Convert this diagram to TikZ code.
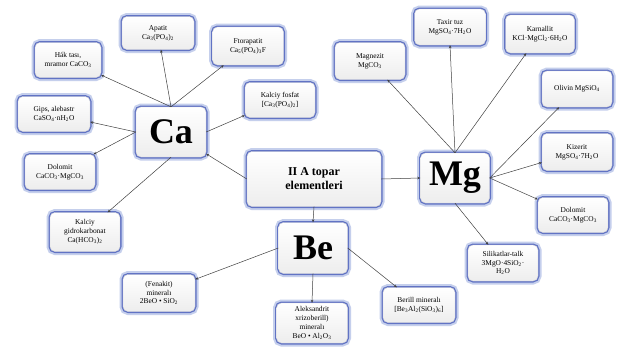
\documentclass[tikz,border=0pt]{standalone}
\usepackage{fontspec}
\setmainfont{Liberation Serif}
\usetikzlibrary{arrows.meta}
\definecolor{glowout}{RGB}{150,168,222}
\definecolor{glowin}{RGB}{80,100,190}
\definecolor{boxline}{RGB}{210,210,215}
\tikzset{
  box/.style={rectangle, rounded corners=5pt, align=center, inner sep=1pt,
    font=\fontsize{7.4}{8.8}\selectfont,
    top color=white, bottom color=gray!14, draw=boxline, line width=0.4pt,
    preaction={draw=glowout, line width=7pt, opacity=0.55},
    preaction={draw=glowin, line width=3pt, opacity=0.85}},
  bigbox/.style={box, font=\fontsize{36}{36}\selectfont\bfseries},
  conn/.style={draw=black!75, line width=0.5pt, -{Stealth[length=3pt,width=2.6pt]}},
}
\begin{document}
\begin{tikzpicture}[x=1pt,y=-1pt]
\useasboundingbox[fill=white] (0,0) rectangle (621,351);
% Ca group
\node[bigbox, minimum width=70, minimum height=50] (ca) at (171,132) {Ca};
\node[box, minimum width=66, minimum height=35] (hak) at (68,60) {Hák tası,\\ mramor CaCO\textsubscript{3}};
\node[box, minimum width=72, minimum height=33] (apatit) at (158,33) {Apatit\\ Ca\textsubscript{3}(PO\textsubscript{4})\textsubscript{2}};
\node[box, minimum width=71, minimum height=38] (ftor) at (248,46) {Ftorapatit\\ Ca\textsubscript{5}(PO\textsubscript{4})\textsubscript{3}F};
\node[box, minimum width=70, minimum height=35] (kfos) at (280,100) {Kalciy fosfat\\\relax [Ca\textsubscript{3}(PO\textsubscript{4})\textsubscript{2}]};
\node[box, minimum width=72, minimum height=35] (gips) at (54,114) {Gips, alebastr\\ CaSO\textsubscript{4}·nH\textsubscript{2}O};
\node[box, minimum width=70, minimum height=35] (dolca) at (60,172) {Dolomit\\ CaCO\textsubscript{3}·MgCO\textsubscript{3}};
\node[box, minimum width=70, minimum height=39] (gidro) at (85,232) {Kalciy\\ gidrokarbonat\\ Ca(HCO\textsubscript{3})\textsubscript{2}};
% centre
\node[box, minimum width=134, minimum height=55, font=\fontsize{12}{14}\selectfont\bfseries] (iia) at (314,179) {II A topar\\ elementleri};
% Mg group
\node[bigbox, minimum width=69, minimum height=50] (mg) at (455,178) {Mg};
\node[box, minimum width=70, minimum height=37] (magn) at (370,61) {Magnezit\\ MgCO\textsubscript{3}};
\node[box, minimum width=71, minimum height=36] (taxir) at (450,27) {Taxir tuz\\ MgSO\textsubscript{4}·7H\textsubscript{2}O};
\node[box, minimum width=69, minimum height=38] (karn) at (540,34) {Karnallit\\ KCl·MgCl\textsubscript{2}·6H\textsubscript{2}O};
\node[box, minimum width=70, minimum height=36] (oliv) at (577,89) {Olivin MgSiO\textsubscript{4}};
\node[box, minimum width=70, minimum height=37] (kiz) at (577,152) {Kizerit\\ MgSO\textsubscript{4}·7H\textsubscript{2}O};
\node[box, minimum width=70, minimum height=35] (dolmg) at (573,215) {Dolomit\\ CaCO\textsubscript{3}·MgCO\textsubscript{3}};
\node[box, minimum width=70, minimum height=36] (sil) at (503,263) {Silikatlar-talk\\ 3MgO·4SiO\textsubscript{2}·\\ H\textsubscript{2}O};
% Be group
\node[bigbox, minimum width=69, minimum height=51] (be) at (313,248) {Be};
\node[box, minimum width=72, minimum height=35] (beril) at (419,305) {Berill mineralı\\\relax [Be\textsubscript{3}Al\textsubscript{2}(SiO\textsubscript{3})\textsubscript{6}]};
\node[box, minimum width=72, minimum height=37] (fen) at (159,293) {(Fenakit)\\ mineralı\\ 2BeO • SiO\textsubscript{2}};
\node[box, minimum width=71, minimum height=40] (aleks) at (312,323) {Aleksandrit\\ xrizoberill)\\ mineralı\\ BeO • Al\textsubscript{2}O\textsubscript{3}};
% connectors
\draw[conn] (ca.north) -- (hak);
\draw[conn] (ca.north) -- (apatit);
\draw[conn] (ca.north) -- (ftor);
\draw[conn] (ca.east) -- (kfos);
\draw[conn] (ca.west) -- (gips);
\draw[conn] (ca.west) -- (dolca);
\draw[conn] (ca.south) -- (gidro);
\draw[conn] (iia.west) -- (ca);
\draw[conn] (iia.east) -- (mg.west);
\draw[conn] (iia.south) -- (be.north);
\draw[conn] (mg.north) -- (magn);
\draw[conn] (mg.north) -- (taxir.south);
\draw[conn] (mg.north) -- (karn);
\draw[conn] (mg.east) -- (oliv);
\draw[conn] (mg.east) -- (kiz);
\draw[conn] (mg.east) -- (dolmg);
\draw[conn] (mg.south) -- (sil);
\draw[conn] (be.east) -- (beril);
\draw[conn] (be.west) -- (fen);
\draw[conn] (be.south) -- (aleks.north);
\end{tikzpicture}
\end{document}
